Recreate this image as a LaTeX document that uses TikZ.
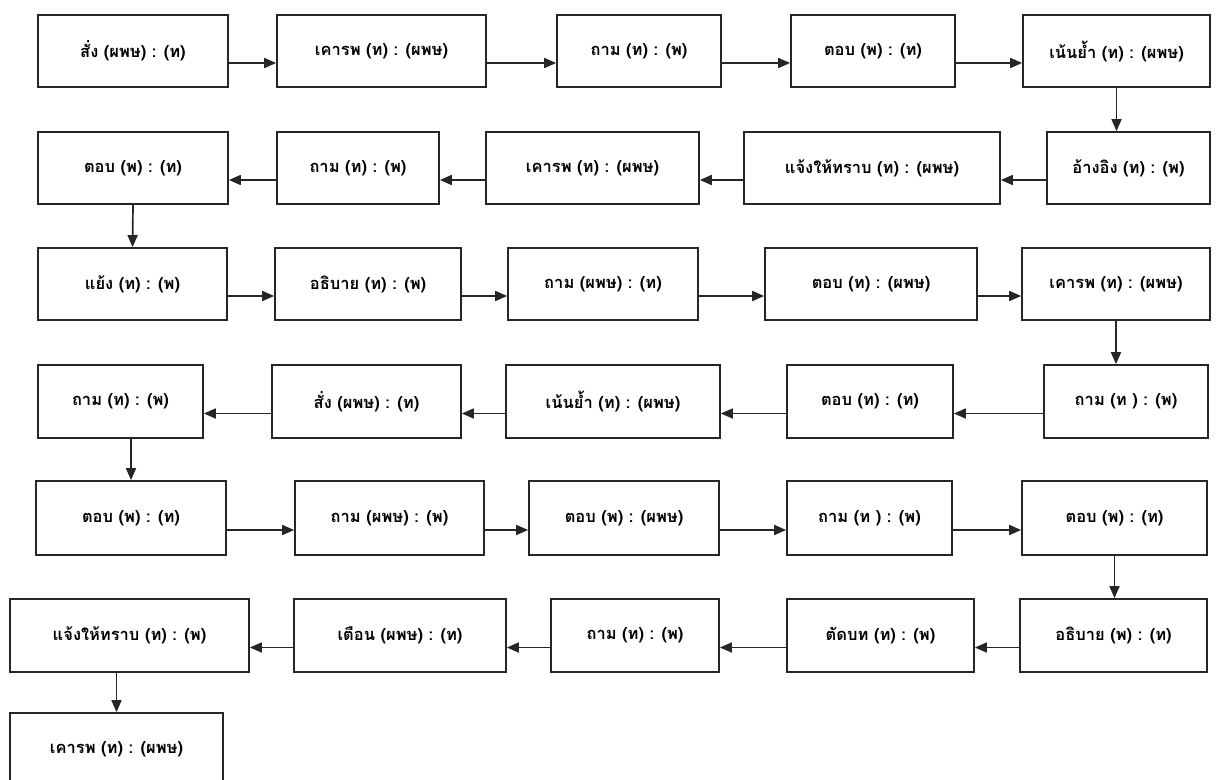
\documentclass[tikz,border=0pt]{standalone}
\usepackage{fontspec}
\newfontfamily\thaifont[Script=Thai]{Loma}
\usetikzlibrary{arrows.meta}
\newcommand{\tkbox}[6]{\node[box,minimum width={#4-#2},minimum height={#5-#3}] (#1) at ({(#2+#4)/2},{(#3+#5)/2}) {#6};}
\begin{document}
\begin{tikzpicture}[x=1pt,y=-1pt,
  box/.style={draw=black!85,line width=1.7pt,rectangle,inner sep=0pt,
    font=\thaifont\bfseries\fontsize{16.5}{19}\selectfont},
  arr/.style={draw=black!85,line width=1.7pt,-{Triangle[length=12pt,width=10pt]}}]
\useasboundingbox[fill=white] (0,0) rectangle (1225,779);
% row 1
\tkbox{b1}{38}{15}{228}{87}{สั่ง (ผพษ) : (ท)}
\tkbox{b2}{277}{15}{486}{87}{เคารพ (ท) : (ผพษ)}
\tkbox{b3}{557}{15}{721}{87}{ถาม (ท) : (พ)}
\tkbox{b4}{791}{15}{955}{87}{ตอบ (พ) : (ท)}
\tkbox{b5}{1023}{15}{1210}{87}{เน้นย้ำ (ท) : (ผพษ)}
% row 2
\tkbox{b6}{1047}{132}{1210}{204}{อ้างอิง (ท) : (พ)}
\tkbox{b7}{744}{132}{1000}{204}{แจ้งให้ทราบ (ท) : (ผพษ)}
\tkbox{b8}{486}{132}{699}{204}{เคารพ (ท) : (ผพษ)}
\tkbox{b9}{277}{132}{439}{204}{ถาม (ท) : (พ)}
\tkbox{b10}{38}{132}{228}{204}{ตอบ (พ) : (ท)}
% row 3
\tkbox{b11}{38}{248}{227}{320}{แย้ง (ท) : (พ)}
\tkbox{b12}{275}{248}{461}{320}{อธิบาย (ท) : (พ)}
\tkbox{b13}{508}{248}{698}{320}{ถาม (ผพษ) : (ท)}
\tkbox{b14}{765}{248}{977}{320}{ตอบ (ท) : (ผพษ)}
\tkbox{b15}{1022}{248}{1210}{320}{เคารพ (ท) : (ผพษ)}
% row 4
\tkbox{b16}{1044}{365}{1208}{438}{ถาม (ท ) : (พ)}
\tkbox{b17}{787}{365}{953}{438}{ตอบ (ท) : (ท)}
\tkbox{b18}{506}{365}{720}{438}{เน้นย้ำ (ท) : (ผพษ)}
\tkbox{b19}{272}{365}{461}{438}{สั่ง (ผพษ) : (ท)}
\tkbox{b20}{38}{365}{203}{438}{ถาม (ท) : (พ)}
% row 5
\tkbox{b21}{36}{481}{226}{555}{ตอบ (พ) : (ท)}
\tkbox{b22}{295}{481}{484}{555}{ถาม (ผพษ) : (พ)}
\tkbox{b23}{529}{481}{719}{555}{ตอบ (พ) : (ผพษ)}
\tkbox{b24}{787}{481}{952}{555}{ถาม (ท ) : (พ)}
\tkbox{b25}{1022}{481}{1207}{555}{ตอบ (พ) : (ท)}
% row 6
\tkbox{b26}{1020}{599}{1207}{672}{อธิบาย (พ) : (ท)}
\tkbox{b27}{787}{599}{974}{672}{ตัดบท (ท) : (พ)}
\tkbox{b28}{551}{599}{719}{672}{ถาม (ท) : (พ)}
\tkbox{b29}{294}{599}{506}{672}{เตือน (ผพษ) : (ท)}
\tkbox{b30}{10}{599}{249}{672}{แจ้งให้ทราบ (ท) : (พ)}
% row 7
\tkbox{b31}{10}{713}{223}{786}{เคารพ (ท) : (ผพษ)}
% horizontal connectors
\foreach \a/\b in {b1/b2,b2/b3,b3/b4,b4/b5,b11/b12,b12/b13,b13/b14,b14/b15,b21/b22,b22/b23,b23/b24,b24/b25}
  \draw[arr] ([yshift=-12pt]\a.east) -- ([yshift=-12pt]\b.west);
\foreach \a/\b in {b6/b7,b7/b8,b8/b9,b9/b10,b16/b17,b17/b18,b18/b19,b19/b20,b26/b27,b27/b28,b28/b29,b29/b30}
  \draw[arr] ([yshift=-12pt]\a.west) -- ([yshift=-12pt]\b.east);
% vertical connectors
\draw[arr] (b5.south) -- (b5.south |- b6.north);
\draw[arr] (b10.south) -- (b11.north);
\draw[arr] (b15.south) -- (b15.south |- b16.north);
\draw[arr] (b20.south -| b21.north) -- (b21.north);
\draw[arr] (b25.south) -- (b25.south |- b26.north);
\draw[arr] (b30.south -| b31.north) -- (b31.north);
\end{tikzpicture}
\end{document}
